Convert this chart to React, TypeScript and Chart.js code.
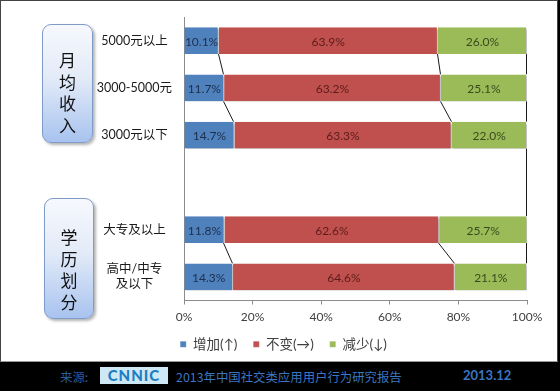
import React, { useEffect, useRef } from 'react';
import { Chart, registerables } from 'chart.js';
Chart.register(...registerables);

const categories: (string | string[])[] = ['5000元以上', '3000-5000元', '3000元以下', '', '大专及以上', ['高中/中专', '及以下']];
const seriesNames = ['增加(↑)', '不变(→)', '减少(↓)'];
const increase = [10.1, 11.7, 14.7, null, 11.8, 14.3];
const unchanged = [63.9, 63.2, 63.3, null, 62.6, 64.6];
const decrease = [26.0, 25.1, 22.0, null, 25.7, 21.1];
const xTicks = [0, 20, 40, 60, 80, 100];
const groupTitles = ['月均收入', '学历划分'];
const footerSource = '来源:';
const footerTitle = '2013年中国社交类应用用户行为研究报告';
const footerDate = '2013.12';

const seriesColors = ['#4f81bd', '#c0504d', '#9bbb59'];
const labelColors = ['#1d2f4e', '#5a1c1b', '#3a4a1c'];
const FONT = "Lato, 'Noto Sans CJK SC', sans-serif";

const decorPlugin = {
  id: 'decor',
  beforeDatasetsDraw(chart: any) {
    const ctx = chart.ctx;
    const metas = chart.data.datasets.map((_: any, i: number) => chart.getDatasetMeta(i));
    const n = chart.data.labels.length;
    const rows: number[] = [];
    for (let j = 0; j < n; j++) {
      if (chart.data.datasets[0].data[j] != null) rows.push(j);
    }
    ctx.save();
    ctx.strokeStyle = '#1a1a1a';
    ctx.lineWidth = 1;
    for (let k = 0; k < rows.length - 1; k++) {
      const a = rows[k], b = rows[k + 1];
      const adjacent = b - a === 1;
      metas.forEach((m: any, di: number) => {
        if (!adjacent && di !== metas.length - 1) return;
        const ea = m.data[a], eb = m.data[b];
        const ha = ea.height / 2, hb = eb.height / 2;
        ctx.beginPath();
        ctx.moveTo(Math.round(ea.x) - 0.5, ea.y + ha);
        ctx.lineTo(Math.round(eb.x) - 0.5, eb.y - hb);
        ctx.stroke();
      });
    }
    ctx.restore();
    ctx.save();
    ctx.shadowColor = 'rgba(0,0,0,0.35)';
    ctx.shadowOffsetX = 1;
    ctx.shadowOffsetY = 2;
    ctx.shadowBlur = 2;
  },
  afterDatasetsDraw(chart: any) {
    const ctx = chart.ctx;
    ctx.restore();
    ctx.save();
    ctx.font = `12px ${FONT}`;
    ctx.textAlign = 'center';
    ctx.textBaseline = 'middle';
    chart.data.datasets.forEach((ds: any, di: number) => {
      const meta = chart.getDatasetMeta(di);
      meta.data.forEach((el: any, j: number) => {
        const v = ds.data[j];
        if (v == null) return;
        ctx.fillStyle = labelColors[di];
        ctx.fillText(v.toFixed(1) + '%', (el.x + el.base) / 2, el.y + 1);
      });
    });
    ctx.restore();
  },
};

function GroupBox({ text, left, top, width, height, padTop }: any) {
  return (
    <div
      style={{
        position: 'absolute',
        left,
        top,
        width,
        height,
        boxSizing: 'border-box',
        border: '1px solid #7f9bc8',
        borderRadius: 9,
        background: 'linear-gradient(to bottom, #f6f8fd 0%, #e3ebf8 45%, #a8c3ef 100%)',
        boxShadow: '2px 2px 3px rgba(0,0,0,0.3)',
        display: 'flex',
        flexDirection: 'column',
        alignItems: 'center',
        paddingTop: padTop,
        fontFamily: "'Noto Sans CJK SC', sans-serif",
        fontSize: 17,
        lineHeight: '21.7px',
        color: '#111',
      }}
    >
      {text.split('').map((c: string, i: number) => (
        <span key={i}>{c}</span>
      ))}
    </div>
  );
}

export default function App() {
  const ref = useRef<HTMLCanvasElement>(null);
  useEffect(() => {
    const chart = new Chart(ref.current!, {
      type: 'bar',
      data: {
        labels: categories as any,
        datasets: [increase, unchanged, decrease].map((d, i) => ({
          label: seriesNames[i],
          data: d as any,
          backgroundColor: seriesColors[i],
          borderColor: 'rgba(255,255,255,0.85)',
          borderWidth: { top: 0, bottom: 0, left: 0, right: 1 } as any,
          borderSkipped: false,
          barPercentage: 0.57,
          categoryPercentage: 1,
        })),
      },
      options: {
        indexAxis: 'y',
        responsive: false,
        animation: false,
        devicePixelRatio: 1,
        layout: { padding: { left: 40, right: 31, top: 17, bottom: 1 } },
        plugins: {
          tooltip: { enabled: false },
          legend: {
            position: 'bottom',
            labels: {
              boxWidth: 6,
              boxHeight: 6,
              padding: 16,
              color: '#404040',
              font: { size: 13.5, family: FONT },
            },
          },
        },
        scales: {
          x: {
            stacked: true,
            min: 0,
            max: 100,
            afterBuildTicks: (s: any) => {
              s.ticks = xTicks.map((v) => ({ value: v }));
            },
            afterFit: (s: any) => {
              s.height = 21;
            },
            ticks: {
              callback: (v: any) => v + '%',
              color: '#404040',
              font: { size: 12, family: FONT },
              padding: 5,
            },
            grid: { drawOnChartArea: false, drawTicks: true, tickLength: 4, color: '#8c8c8c' },
            border: { color: '#8c8c8c' },
          },
          y: {
            stacked: true,
            afterFit: (s: any) => {
              s.width = 144;
              s.paddingTop = 0;
              s.paddingBottom = 0;
            },
            ticks: {
              crossAlign: 'center',
              color: '#1a1a1a',
              font: { size: 12.5, family: FONT },
              padding: 12,
            },
            grid: { display: false, drawTicks: false },
            border: { display: true, color: '#8c8c8c' },
          },
        },
      },
      plugins: [decorPlugin],
    });
    return () => chart.destroy();
  }, []);

  return (
    <div style={{ position: 'absolute', left: 0, top: 0, width: 560, height: 391, background: '#000', overflow: 'hidden' }}>
      <div
        style={{
          position: 'absolute',
          left: 0,
          top: 0,
          width: 558,
          height: 362,
          background: '#fff',
          boxSizing: 'border-box',
          borderLeft: '1px solid #444',
          borderTop: '1px solid #444',
          borderRight: '1px solid #444',
          borderBottom: '1px solid #9a9a9a',
        }}
      />
      <canvas ref={ref} width={558} height={362} style={{ position: 'absolute', left: 0, top: 0, width: 558, height: 362 }} />
      <GroupBox text={groupTitles[0]} left={42} top={24} width={51} height={119} padTop={24} />
      <GroupBox text={groupTitles[1]} left={44} top={198} width={50} height={121} padTop={27} />
      <div style={{ position: 'absolute', left: 0, top: 362, width: 560, height: 29, fontFamily: "'Noto Sans CJK SC', sans-serif", fontSize: 12.4 }}>
        <span style={{ position: 'absolute', left: 60, top: 6, color: '#2b5d9c' }}>{footerSource}</span>
        <div
          style={{
            position: 'absolute',
            left: 100,
            top: 5,
            width: 68,
            height: 17,
            background: '#cfe8f6',
            color: '#1d7fc1',
            fontFamily: 'Lato, sans-serif',
            fontWeight: 900,
            fontSize: 15,
            lineHeight: '17px',
            textAlign: 'center',
            letterSpacing: 1,
          }}
        >
          CNNIC
        </div>
        <span style={{ position: 'absolute', left: 176, top: 6, color: '#3b76c2' }}>{footerTitle}</span>
        <span style={{ position: 'absolute', left: 463, top: 5, color: '#3b76c2', fontWeight: 700, fontFamily: 'Lato, sans-serif', fontSize: 13 }}>{footerDate}</span>
      </div>
    </div>
  );
}
